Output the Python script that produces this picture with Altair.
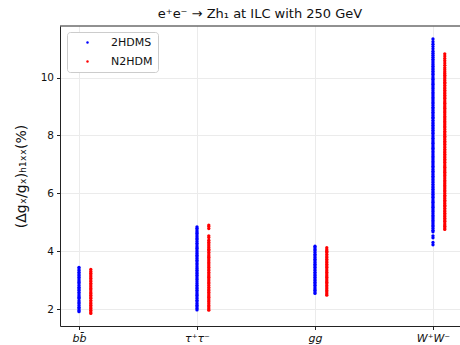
import altair as alt
import pandas as pd

# Decay channels along the x axis
channels = ["bb", "tautau", "gg", "WW"]
channel_labels = ["bb̄", "τ⁺τ⁻", "gg", "W⁺W⁻"]
models = ["2HDMS", "N2HDM"]

# Relative coupling deviations (%) of scanned parameter points
hdms_bb = [1.91, 1.95, 2.01, 2.06, 2.12, 2.18, 2.23, 2.29, 2.36, 2.41, 2.46, 2.52,
           2.58, 2.65, 2.70, 2.75, 2.81, 2.87, 2.93, 2.98, 3.04, 3.10, 3.16, 3.21,
           3.27, 3.33, 3.38, 3.44]
n2hdm_bb = [1.85, 1.90, 1.96, 2.02, 2.07, 2.13, 2.19, 2.24, 2.30, 2.37, 2.42, 2.48,
            2.54, 2.59, 2.66, 2.71, 2.77, 2.83, 2.89, 2.95, 3.00, 3.06, 3.12, 3.18,
            3.24, 3.30, 3.37]
hdms_tt = [1.97, 2.02, 2.08, 2.13, 2.19, 2.25, 2.30, 2.36, 2.42, 2.48, 2.53, 2.59,
           2.65, 2.71, 2.76, 2.82, 2.88, 2.94, 3.00, 3.05, 3.11, 3.17, 3.23, 3.28,
           3.34, 3.40, 3.46, 3.52, 3.57, 3.63, 3.69, 3.75, 3.81, 3.86, 3.92, 3.98,
           4.04, 4.10, 4.15, 4.21, 4.27, 4.33, 4.39, 4.44, 4.50, 4.56, 4.62, 4.67,
           4.73, 4.79, 4.84]
n2hdm_tt = [1.96, 2.01, 2.07, 2.12, 2.18, 2.24, 2.29, 2.35, 2.41, 2.46, 2.52, 2.58,
            2.64, 2.69, 2.75, 2.81, 2.87, 2.92, 2.98, 3.04, 3.10, 3.15, 3.21, 3.27,
            3.33, 3.38, 3.44, 3.50, 3.56, 3.61, 3.67, 3.73, 3.79, 3.84, 3.90, 3.96,
            4.02, 4.07, 4.13, 4.19, 4.25, 4.31, 4.38, 4.47, 4.53, 4.78, 4.85, 4.90]
hdms_gg = [2.54, 2.59, 2.65, 2.70, 2.76, 2.82, 2.87, 2.93, 2.99, 3.04, 3.10, 3.16,
           3.21, 3.27, 3.33, 3.38, 3.44, 3.50, 3.55, 3.61, 3.67, 3.72, 3.78, 3.84,
           3.89, 3.95, 4.01, 4.06, 4.12, 4.17]
n2hdm_gg = [2.48, 2.53, 2.59, 2.64, 2.70, 2.76, 2.81, 2.87, 2.93, 2.98, 3.04, 3.10,
            3.15, 3.21, 3.27, 3.32, 3.38, 3.44, 3.49, 3.55, 3.61, 3.66, 3.72, 3.78,
            3.83, 3.89, 3.95, 4.00, 4.05, 4.12]
hdms_ww = [4.22, 4.30, 4.46, 4.53, 4.67, 4.72, 4.78, 4.84, 4.89, 4.95, 5.01, 5.06,
           5.12, 5.18, 5.23, 5.29, 5.35, 5.40, 5.46, 5.52, 5.57, 5.63, 5.69, 5.74,
           5.80, 5.86, 5.91, 5.97, 6.03, 6.08, 6.14, 6.20, 6.25, 6.31, 6.37, 6.42,
           6.48, 6.54, 6.59, 6.65, 6.71, 6.76, 6.82, 6.88, 6.93, 6.99, 7.05, 7.10,
           7.16, 7.22, 7.27, 7.33, 7.39, 7.44, 7.50, 7.56, 7.61, 7.67, 7.73, 7.78,
           7.84, 7.90, 7.95, 8.01, 8.07, 8.12, 8.18, 8.24, 8.29, 8.35, 8.41, 8.46,
           8.52, 8.58, 8.63, 8.69, 8.75, 8.80, 8.86, 8.92, 8.97, 9.03, 9.09, 9.14,
           9.20, 9.26, 9.31, 9.37, 9.43, 9.48, 9.54, 9.60, 9.65, 9.71, 9.77, 9.82,
           9.88, 9.94, 9.99, 10.05, 10.11, 10.16, 10.22, 10.28, 10.33, 10.39, 10.45,
           10.51, 10.57, 10.63, 10.70, 10.77, 10.84, 10.91, 10.99, 11.07, 11.15,
           11.24, 11.33]
n2hdm_ww = [4.75, 4.80, 4.86, 4.91, 4.97, 5.03, 5.08, 5.14, 5.20, 5.25, 5.31, 5.37,
            5.42, 5.48, 5.54, 5.59, 5.65, 5.71, 5.76, 5.82, 5.88, 5.93, 5.99, 6.05,
            6.10, 6.16, 6.22, 6.27, 6.33, 6.39, 6.44, 6.50, 6.56, 6.61, 6.67, 6.73,
            6.78, 6.84, 6.90, 6.95, 7.01, 7.07, 7.12, 7.18, 7.24, 7.29, 7.35, 7.41,
            7.46, 7.52, 7.58, 7.63, 7.69, 7.75, 7.80, 7.86, 7.92, 7.97, 8.03, 8.09,
            8.14, 8.20, 8.26, 8.31, 8.37, 8.43, 8.48, 8.54, 8.60, 8.65, 8.71, 8.77,
            8.82, 8.88, 8.94, 8.99, 9.05, 9.11, 9.16, 9.22, 9.28, 9.33, 9.39, 9.45,
            9.50, 9.56, 9.62, 9.67, 9.73, 9.79, 9.84, 9.90, 9.96, 10.02, 10.08,
            10.14, 10.20, 10.27, 10.34, 10.42, 10.50, 10.58, 10.66, 10.74, 10.82]

series = {
    ("bb", "2HDMS"): hdms_bb, ("bb", "N2HDM"): n2hdm_bb,
    ("tautau", "2HDMS"): hdms_tt, ("tautau", "N2HDM"): n2hdm_tt,
    ("gg", "2HDMS"): hdms_gg, ("gg", "N2HDM"): n2hdm_gg,
    ("WW", "2HDMS"): hdms_ww, ("WW", "N2HDM"): n2hdm_ww,
}

rows = []
for (ch, model), vals in series.items():
    for v in vals:
        rows.append({"idx": channels.index(ch), "model": model, "dev": v})
df = pd.DataFrame(rows)

label_expr = " : ".join(
    f"datum.value == {i} ? '{lab}'" for i, lab in enumerate(channel_labels)
) + " : ''"

points = alt.Chart(df).transform_calculate(
    xpos="datum.idx + (datum.model == 'N2HDM' ? 0.1 : 0)"
).mark_circle(size=11, opacity=1).encode(
    x=alt.X("xpos:Q",
            scale=alt.Scale(domain=[-0.161, 3.229], nice=False, zero=False),
            axis=alt.Axis(values=[0, 1, 2, 3], labelExpr=label_expr, title=None,
                          labelFontStyle="italic", labelFontSize=11,
                          labelPadding=3, tickSize=3.5, grid=True)),
    y=alt.Y("dev:Q",
            scale=alt.Scale(domain=[1.414, 11.78], nice=False, zero=False),
            axis=alt.Axis(values=[2, 4, 6, 8, 10], title="(Δgₓ/gₓ)ₕ₁ₓₓ(%)",
                          titleFontSize=14, titleFontWeight="normal",
                          titlePadding=12, labelFontSize=10.5, labelPadding=3,
                          tickSize=3.5, grid=True)),
    color=alt.Color("model:N",
                    scale=alt.Scale(domain=models, range=["#0000ff", "#ff0000"]),
                    legend=alt.Legend(title=None, orient="none", legendX=7, legendY=6,
                                      symbolType="circle", symbolSize=6,
                                      symbolOffset=10, labelOffset=18,
                                      labelFontSize=11, rowPadding=7, padding=5,
                                      strokeColor="#cccccc", fillColor="white",
                                      cornerRadius=3)),
)

top_border = alt.Chart(pd.DataFrame({"k": [0]})).mark_rule(
    color="#222222", strokeWidth=1
).encode(x=alt.value(0), x2=alt.value(400), y=alt.value(0))

chart = alt.layer(points, top_border).properties(
    width=400, height=300,
    title=alt.TitleParams("e⁺e⁻ → Zh₁ at ILC with 250 GeV", fontSize=13,
                          fontWeight="normal", anchor="middle", offset=5),
    padding={"left": 60, "top": 26, "right": 0, "bottom": 19},
    autosize=alt.AutoSizeParams(type="none"),
).configure(
    font="DejaVu Sans",
).configure_view(
    stroke=None,
).configure_axis(
    domainColor="#222222", tickColor="#222222", labelColor="#111111",
    titleColor="#111111", gridColor="#ebebeb", gridWidth=1,
    labelFont="DejaVu Sans", titleFont="DejaVu Sans",
).configure_title(
    font="DejaVu Sans", color="#111111",
).configure_legend(
    labelFont="DejaVu Sans", labelColor="#111111",
)

chart.save("out.html", embed_options={"renderer": "svg", "actions": False})
